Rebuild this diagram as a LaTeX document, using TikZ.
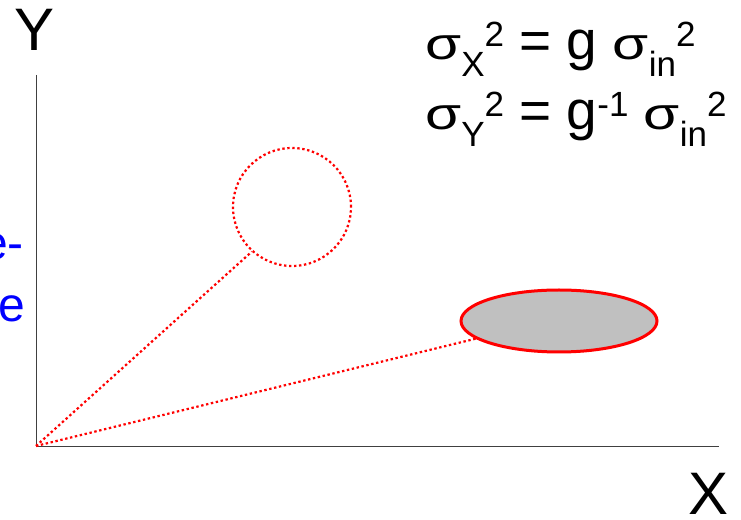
\documentclass[tikz,border=0pt]{standalone}
\usepackage{fontspec}
\usepackage{graphicx}
\setmainfont{Liberation Sans}
\usetikzlibrary{shapes.geometric}
\newcommand\mysub[1]{\raisebox{-17pt}{\fontsize{35}{35}\selectfont #1}}
\newcommand\mysup[1]{\raisebox{13pt}{\fontsize{35}{35}\selectfont #1}}
\newcommand\sig{\scalebox{1.3}[1]{\fontsize{45}{45}\selectfont σ}}
\definecolor{fillgray}{RGB}{192,192,192}
\begin{document}
\begin{tikzpicture}[x=1pt,y=1pt,
  axis/.style={draw=black!75,line width=0.9pt},
  dotline/.style={draw=red,line width=2.2pt,dash pattern=on 2.4pt off 2.6pt},
  biglabel/.style={font=\fontsize{60}{60}\selectfont,inner sep=0pt},
  eqn/.style={font=\fontsize{55}{55}\selectfont,inner sep=0pt},
  bluetxt/.style={font=\fontsize{48}{48}\selectfont,text=blue,inner sep=0pt}]
\useasboundingbox (0,0) rectangle (741,519);
\coordinate (O) at (36,73);
\coordinate (ytop) at (36,444);
\coordinate (xend) at (719,73);
\draw[axis] (ytop) -- (O) -- (xend);
\node[circle,dotline,minimum size=118pt,inner sep=0pt] (circ) at (292,312) {};
\node[ellipse,draw=red,line width=3pt,fill=fillgray,minimum width=196pt,minimum height=62pt,inner sep=0pt] (ell) at (559,198) {};
\draw[dotline] (O) -- (circ.228);
\draw[dotline] (O) -- (ell.192);
\node[biglabel,anchor=base] (ylab) at (35,468) {Y};
\node[biglabel,anchor=base] (xlab) at (708,5) {X};
\node[eqn,anchor=base west] (eq1) at (425,459) {\sig\mysub{X}\mysup{2} = g \sig\mysub{in}\mysup{2}};
\node[eqn,anchor=base west] (eq2) at (425,389) {\sig\mysub{Y}\mysup{2} = g\mysup{-1} \sig\mysub{in}\mysup{2}};
\node[bluetxt,anchor=base east] (b1) at (24,259) {e-};
\node[bluetxt,anchor=base east] (b2) at (25,197) {e};
\end{tikzpicture}
\end{document}
